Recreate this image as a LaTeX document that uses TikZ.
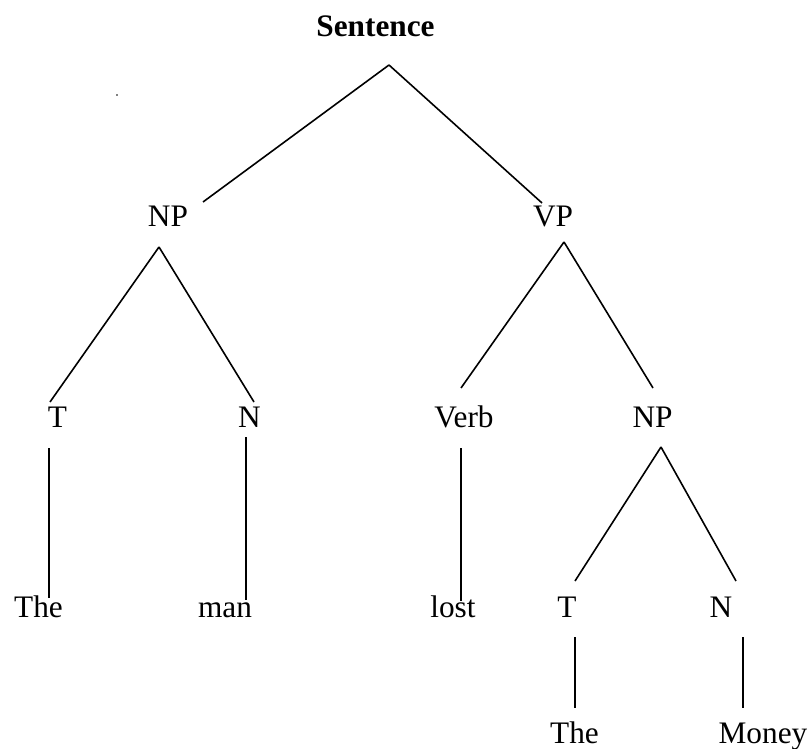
\documentclass[tikz,border=0pt]{standalone}
\usepackage{fontspec}
\setmainfont{Liberation Serif}
\usetikzlibrary{positioning}
\tikzset{dot/.style={circle, fill, inner sep=0.7pt}}
\tikzset{word/.style={anchor=base, inner sep=0pt, font=\fontsize{31.3}{36}\selectfont}}

\begin{document}
\begin{tikzpicture}[x=1pt, y=-1pt, line width=1.6pt]
\useasboundingbox (0,0) rectangle (811,749);
% labels
\node[word, font=\fontsize{31.3}{36}\selectfont\bfseries] (sent) at (375.5,36.5) {Sentence};
\node[word] (np1) at (168,226) {NP};
\node[word] (vp) at (553,226) {VP};
\node[word] (t1) at (57.5,427) {T};
\node[word] (n1) at (249.5,427) {N};
\node[word] (verb) at (464,427) {Verb};
\node[word] (np2) at (652.5,427) {NP};
\node[word] (the1) at (38.5,617) {The};
\node[word] (man) at (225,617) {man};
\node[word] (lost) at (453,617) {lost};
\node[word] (t2) at (567,617) {T};
\node[word] (n2) at (721,617) {N};
\node[word] (the2) at (574.5,743) {The};
\node[word] (money) at (763,743) {Money};
\node[dot] (spot) at (117,95) {};
%
\coordinate (sent-b) at (389,65);
\coordinate (np1-t) at (203,202);
\coordinate (vp-t) at (542,203);
\coordinate (np1-b) at (159,247);
\coordinate (t1-t) at (50,402);
\coordinate (n1-t) at (254,402);
\coordinate (vp-b) at (564,242);
\coordinate (verb-t) at (461,388);
\coordinate (np2-t) at (653,388);
\coordinate (t1-b) at (49,448);
\coordinate (the1-t) at (49,598);
\coordinate (n1-b) at (246,437);
\coordinate (man-t) at (246,600);
\coordinate (verb-b) at (461,448);
\coordinate (lost-t) at (461,601);
\coordinate (np2-b) at (661,447);
\coordinate (t2-t) at (575,581);
\coordinate (n2-t) at (736,581);
\coordinate (t2-b) at (575,637);
\coordinate (the2-t) at (575,708);
\coordinate (n2-b) at (743,637);
\coordinate (money-t) at (743,708);
%



\draw (sent-b) -- (np1-t);
\draw (sent-b) -- (vp-t);
\draw (np1-b) -- (t1-t);
\draw (np1-b) -- (n1-t);
\draw (vp-b) -- (verb-t);
\draw (vp-b) -- (np2-t);
\draw (t1-b) -- (the1-t);
\draw (n1-b) -- (man-t);
\draw (verb-b) -- (lost-t);
\draw (np2-b) -- (t2-t);
\draw (np2-b) -- (n2-t);
\draw (t2-b) -- (the2-t);
\draw (n2-b) -- (money-t);
\end{tikzpicture}
\end{document}
